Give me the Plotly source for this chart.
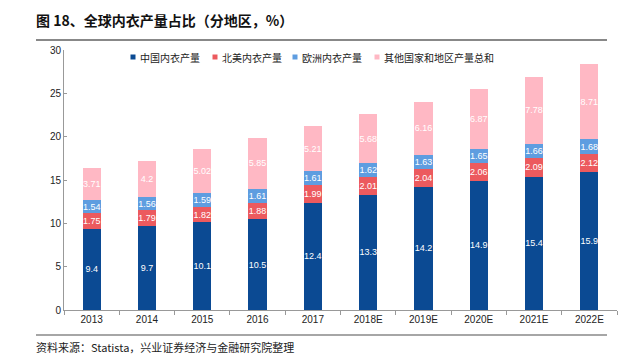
import plotly.graph_objects as go

years = ["2013", "2014", "2015", "2016", "2017", "2018E", "2019E", "2020E", "2021E", "2022E"]
china = [9.4, 9.7, 10.1, 10.5, 12.4, 13.3, 14.2, 14.9, 15.4, 15.9]
north_america = [1.75, 1.79, 1.82, 1.88, 1.99, 2.01, 2.04, 2.06, 2.09, 2.12]
europe = [1.54, 1.56, 1.59, 1.61, 1.61, 1.62, 1.63, 1.65, 1.66, 1.68]
others = [3.71, 4.2, 5.02, 5.85, 5.21, 5.68, 6.16, 6.87, 7.78, 8.71]

series = [
    ("中国内衣产量", china, "#0B4A93"),
    ("北美内衣产量", north_america, "#EC5A5E"),
    ("欧洲内衣产量", europe, "#5E9DE0"),
    ("其他国家和地区产量总和", others, "#FFB8C4"),
]

W, H = 642, 358
L, R, T, B = 64, 25, 50, 48
pw, ph = W - L - R, H - T - B

def px(x):  # pixel x -> paper
    return (x - L) / pw

def py(y):  # pixel y -> paper
    return (H - B - y) / ph

fig = go.Figure()
for name, vals, color in series:
    fig.add_trace(go.Bar(
        x=years, y=vals, name=name, marker=dict(color=color, line=dict(width=0)),
        text=[f"{v:g}" for v in vals], textposition="inside", insidetextanchor="middle",
        textangle=0, textfont=dict(color="white", size=9, family="Liberation Sans"),
        width=0.33, showlegend=False,
    ))

fig.update_layout(
    barmode="stack",
    width=W, height=H,
    margin=dict(l=L, r=R, t=T, b=B),
    paper_bgcolor="white", plot_bgcolor="white",
    uniformtext=dict(minsize=9, mode="show"),
    font=dict(family="Noto Sans CJK SC", size=10, color="#333"),
    xaxis=dict(showline=True, linecolor="#999", ticks="outside", tickson="boundaries",
               ticklen=4, tickcolor="#999",
               tickfont=dict(size=10, family="Liberation Sans", color="#222"),
               showgrid=False),
    yaxis=dict(range=[0, 30], dtick=5, showline=True, linecolor="#999", ticks="inside",
               ticklen=3, tickcolor="#999", showgrid=False, zeroline=False,
               tickfont=dict(size=10, family="Liberation Sans", color="#222")),
)

# legend
leg_x = [133, 215, 295, 377]
for (name, _, color), mx in zip(series, leg_x):
    fig.add_shape(type="rect", xref="paper", yref="paper", xsizemode="pixel", ysizemode="pixel",
                  xanchor=px(mx), yanchor=py(57), x0=-2.5, x1=2.5, y0=-2.5, y1=2.5,
                  fillcolor=color, line=dict(width=0))
    fig.add_annotation(text=name, xref="paper", yref="paper", x=px(mx + 5), y=py(57),
                       xanchor="left", yanchor="middle", showarrow=False,
                       font=dict(size=10, color="#222", family="Noto Sans CJK SC"))

fig.add_annotation(text="<b>图 18、全球内衣产量占比（分地区，%）</b>", xref="paper", yref="paper",
                   x=px(34), y=py(20), xanchor="left", yanchor="middle", showarrow=False,
                   font=dict(size=14, color="#111", family="Noto Sans CJK SC"))
fig.add_shape(type="line", xref="paper", yref="paper", x0=px(36), x1=px(607), y0=py(40), y1=py(40),
              line=dict(color="#888", width=2))
fig.add_shape(type="line", xref="paper", yref="paper", x0=px(36), x1=px(607), y0=py(335), y1=py(335),
              line=dict(color="#888", width=1.5))
fig.add_annotation(text="资料来源：Statista，兴业证券经济与金融研究院整理", xref="paper", yref="paper",
                   x=px(34), y=py(347), xanchor="left", yanchor="middle", showarrow=False,
                   font=dict(size=11, color="#222", family="Noto Sans CJK SC"))

fig.write_html("out.html", config={"displayModeBar": False},
               post_script="document.body.style.margin='0';document.body.style.overflow='hidden';")
